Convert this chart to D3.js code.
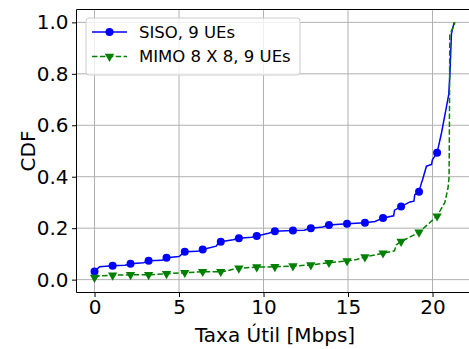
<!DOCTYPE html>
<html>
<head>
<meta charset="utf-8">
<script src="https://cdn.jsdelivr.net/npm/d3@7"></script>
<style>
  html, body { margin: 0; padding: 0; background: #fff; }
  svg { display: block; font-family: "DejaVu Sans", sans-serif; }
</style>
</head>
<body>
<svg id="chart" width="469" height="349"></svg>
<script>
// Throughput CDF, SISO vs MIMO 8x8 (9 UEs). Each vertex: [Mbps, CDF, hasMarker]
const sisoPoints = [
  [0.00, 0.032, 1], [0.30, 0.050, 0], [1.07, 0.054, 1], [1.80, 0.056, 0],
  [2.13, 0.062, 1], [2.90, 0.066, 0], [3.20, 0.073, 1], [4.00, 0.075, 0],
  [4.26, 0.085, 1], [5.00, 0.090, 0], [5.34, 0.108, 1], [6.10, 0.110, 0],
  [6.40, 0.117, 1], [7.20, 0.130, 0], [7.30, 0.140, 0], [7.47, 0.147, 1],
  [8.20, 0.155, 0], [8.54, 0.161, 1], [9.30, 0.165, 0], [9.60, 0.170, 1],
  [10.30, 0.180, 0], [10.67, 0.188, 1], [11.74, 0.191, 1], [12.40, 0.192, 0],
  [12.80, 0.200, 1], [13.50, 0.205, 0], [13.87, 0.212, 1], [14.94, 0.217, 1],
  [16.00, 0.221, 1], [16.60, 0.226, 0], [17.07, 0.240, 1], [17.70, 0.248, 0],
  [17.75, 0.270, 0], [18.14, 0.284, 1], [18.66, 0.302, 0], [18.90, 0.305, 0],
  [18.95, 0.330, 0], [19.20, 0.342, 1], [19.35, 0.377, 0], [19.42, 0.390, 0],
  [19.64, 0.441, 0], [19.94, 0.448, 0], [20.00, 0.467, 0], [20.27, 0.493, 1],
  [20.53, 0.570, 0], [20.79, 0.660, 0], [20.96, 0.720, 0], [21.03, 0.800, 0],
  [21.12, 0.956, 0], [21.28, 1.000, 0]
];
const mimoPoints = [
  [0.00, 0.008, 1], [0.30, 0.015, 0], [1.07, 0.017, 1], [2.13, 0.019, 1],
  [3.20, 0.019, 1], [4.26, 0.023, 1], [5.34, 0.027, 1], [6.40, 0.031, 1],
  [7.47, 0.031, 1], [7.90, 0.035, 0], [8.20, 0.040, 0], [8.54, 0.044, 1],
  [9.60, 0.049, 1], [10.67, 0.050, 1], [11.74, 0.053, 1], [12.80, 0.057, 1],
  [13.87, 0.066, 1], [14.94, 0.073, 1], [15.50, 0.078, 0], [16.00, 0.088, 1],
  [17.07, 0.103, 1], [17.75, 0.112, 0], [17.85, 0.135, 0], [18.14, 0.148, 1],
  [19.20, 0.184, 1], [20.27, 0.247, 1], [20.73, 0.300, 0], [20.92, 0.358, 0],
  [20.98, 0.400, 0], [21.00, 0.600, 0], [21.02, 0.950, 0], [21.33, 1.000, 0]
];
const seriesNames = ["SISO, 9 UEs", "MIMO 8 X 8, 9 UEs"];
const xTicks = [0, 5, 10, 15, 20];
const yTicks = [0.0, 0.2, 0.4, 0.6, 0.8, 1.0];
const xLabel = "Taxa Útil [Mbps]";
const yLabel = "CDF";

const svg = d3.select("#chart");
const plot = { left: 76.5, top: 9.5, bottom: 292.5 };
const xMax = 21.33, yMin = 0, yMaxV = 1;
const xPad = xMax * 0.05, yPad = (yMaxV - yMin) * 0.05;

const x = d3.scaleLinear().domain([-xPad, xMax + xPad]).range([plot.left, plot.left + 16.9 * (xMax + 2 * xPad)]);
const y = d3.scaleLinear().domain([yMin - yPad, yMaxV + yPad]).range([plot.bottom, plot.top]);
const right = x.range()[1];

// grid
const grid = svg.append("g").attr("stroke", "#b0b0b0").attr("stroke-width", 1);
xTicks.forEach(t => grid.append("line").attr("x1", x(t)).attr("x2", x(t)).attr("y1", plot.top).attr("y2", plot.bottom));
yTicks.forEach(t => grid.append("line").attr("x1", plot.left).attr("x2", right).attr("y1", y(t)).attr("y2", y(t)));

svg.append("clipPath").attr("id", "clip").append("rect")
  .attr("x", plot.left).attr("y", plot.top).attr("width", right - plot.left).attr("height", plot.bottom - plot.top);

const line = d3.line().x(d => x(d[0])).y(d => y(d[1]));
const g = svg.append("g").attr("clip-path", "url(#clip)");

// SISO
g.append("path").datum(sisoPoints).attr("d", line)
  .attr("fill", "none").attr("stroke", "#0000ff").attr("stroke-width", 1.5);
g.selectAll(".siso").data(sisoPoints.filter(d => d[2])).join("circle")
  .attr("cx", d => x(d[0])).attr("cy", d => y(d[1])).attr("r", 4).attr("fill", "#0000ff");

// MIMO
g.append("path").datum(mimoPoints).attr("d", line)
  .attr("fill", "none").attr("stroke", "#008000").attr("stroke-width", 1.5)
  .attr("stroke-dasharray", "5.5,2.4");
const tri = d3.symbol().type(d3.symbolTriangle).size(38);
g.selectAll(".mimo").data(mimoPoints.filter(d => d[2])).join("path")
  .attr("d", tri).attr("fill", "#008000")
  .attr("transform", d => `translate(${x(d[0])},${y(d[1])}) rotate(180)`);

// frame
svg.append("path").attr("d", `M${right},${plot.top}H${plot.left}V${plot.bottom}H${right}`)
  .attr("stroke", "#000").attr("stroke-width", 1).attr("fill", "none");

// axes
const xAxis = svg.append("g").attr("transform", `translate(0,${plot.bottom})`)
  .call(d3.axisBottom(x).tickValues(xTicks).tickFormat(d3.format("d")).tickSize(4.5).tickPadding(3));
const yAxis = svg.append("g").attr("transform", `translate(${plot.left},0)`)
  .call(d3.axisLeft(y).tickValues(yTicks).tickFormat(d3.format(".1f")).tickSize(4.5).tickPadding(3.5));
[xAxis, yAxis].forEach(a => {
  a.select(".domain").remove();
  a.selectAll("text").attr("font-size", 20).attr("fill", "#000").attr("font-family", "DejaVu Sans");
  a.selectAll("line").attr("stroke", "#000");
});

svg.append("text").attr("x", (x(0) + x(20)) / 2 + 11.5).attr("y", 342)
  .attr("text-anchor", "middle").attr("font-size", 20).text(xLabel);
svg.append("text").attr("transform", `translate(28,${(y(0) + y(1)) / 2}) rotate(-90)`)
  .attr("text-anchor", "middle").attr("dominant-baseline", "central").attr("font-size", 20).text(yLabel);

// legend
const lg = svg.append("g").attr("transform", "translate(86,18)");
lg.append("rect").attr("width", 214).attr("height", 57).attr("rx", 3)
  .attr("fill", "#fff").attr("fill-opacity", 0.8).attr("stroke", "#cccccc");
seriesNames.forEach((name, i) => {
  const cy = 14 + i * 24.5;
  const item = lg.append("g").attr("transform", `translate(0,${cy})`);
  item.append("line").attr("x1", 6).attr("x2", 41).attr("y1", 0).attr("y2", 0)
    .attr("stroke", i === 0 ? "#0000ff" : "#008000").attr("stroke-width", 1.5)
    .attr("stroke-dasharray", i === 0 ? null : "5.5,2.4");
  if (i === 0) item.append("circle").attr("cx", 23.5).attr("cy", 0).attr("r", 4).attr("fill", "#0000ff");
  else item.append("path").attr("d", tri).attr("fill", "#008000").attr("transform", "translate(23.5,0) rotate(180)");
  item.append("text").attr("x", 53).attr("y", 0).attr("dominant-baseline", "central")
    .attr("font-size", 16.5).text(name);
});
</script>
</body>
</html>
